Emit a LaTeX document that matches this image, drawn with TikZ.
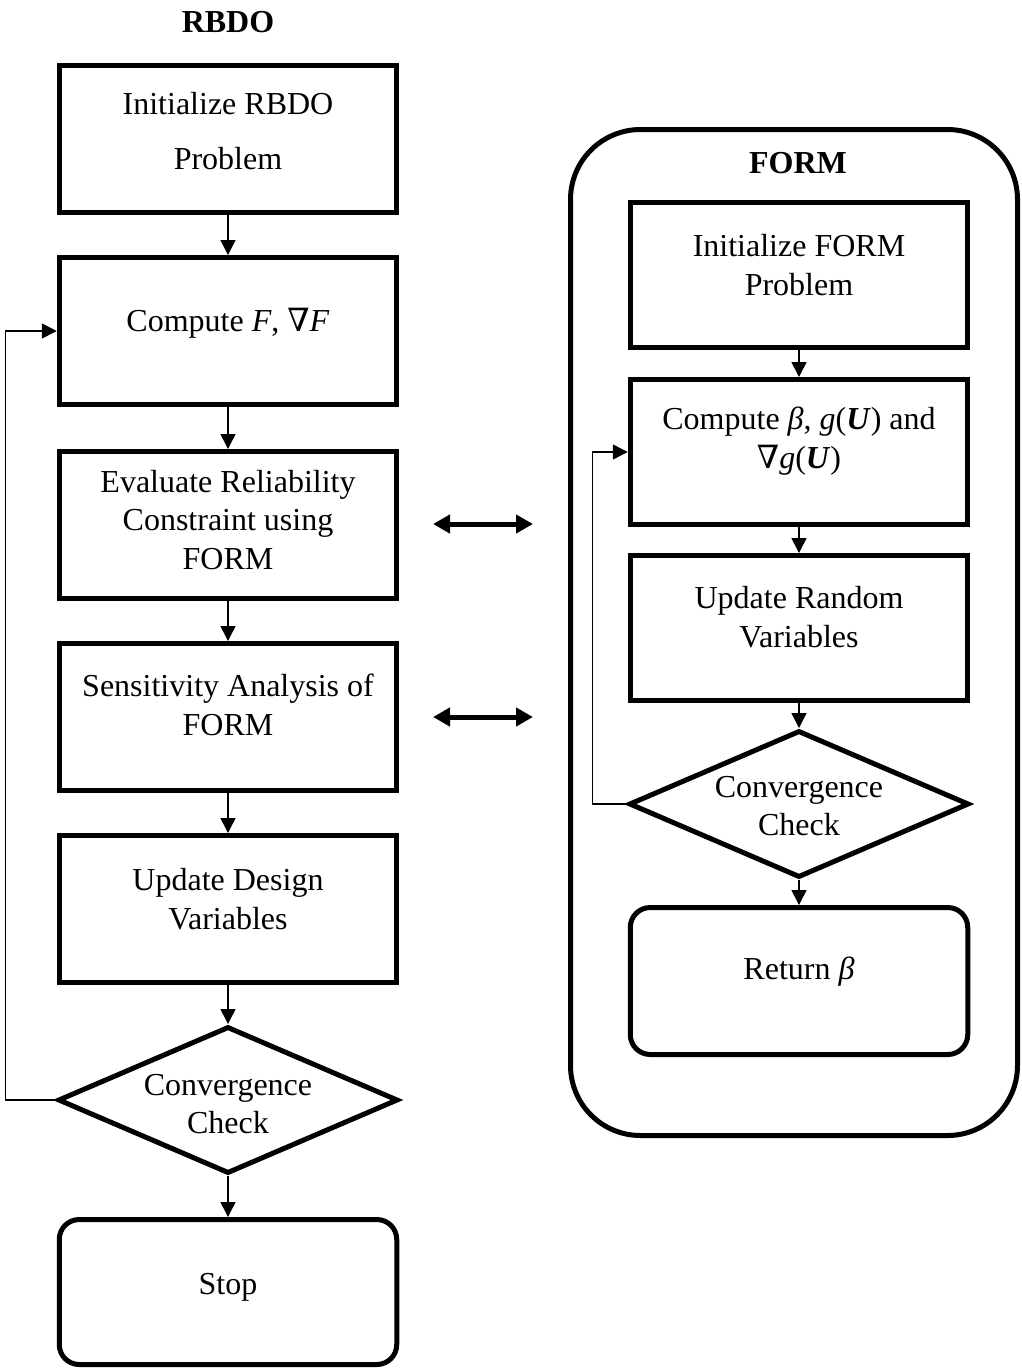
\documentclass[tikz,border=0pt]{standalone}
\usepackage{fontspec}
\setmainfont{Liberation Serif}
\newfontfamily\nablafont{DejaVu Serif}
\newcommand{\nbl}{{\nablafont\symbol{"2207}}}
\usetikzlibrary{shapes.geometric,arrows.meta}
\begin{document}
\begin{tikzpicture}[x=1pt,y=-1pt,
  stepbox/.style={draw,line width=5pt,minimum width=337.5pt,minimum height=147pt,inner sep=0pt},
  roundbox/.style={stepbox,rounded corners=20pt},
  decision/.style={draw,diamond,line width=5pt,minimum width=340pt,minimum height=147pt,inner sep=0pt},
  txt/.style={align=center,font=\fontsize{32}{38.5}\selectfont,inner sep=0pt},
  title/.style={font=\fontsize{32}{38}\selectfont\bfseries,inner sep=0pt},
  conn/.style={line width=1.5pt,-{Triangle[length=15pt,width=15pt]}},
  dbl/.style={line width=5pt,{Triangle[length=17pt,width=18pt]}-{Triangle[length=17pt,width=18pt]}}
]
\useasboundingbox (0,0) rectangle (1021,1369);
% outer FORM container
\node[draw,line width=5pt,rounded corners=70pt,minimum width=447pt,minimum height=1006pt,inner sep=0pt] (formbox) at (794,632.5) {};
% titles
\node[title] (trbdo) at (228,22) {RBDO};
\node[title] (tform) at (798,163) {FORM};
% left column
\node[stepbox] (b1) at (228,139) {};
\node[stepbox] (b2) at (228,331) {};
\node[stepbox] (b3) at (228,525) {};
\node[stepbox] (b4) at (228,717) {};
\node[stepbox] (b5) at (228,909) {};
\node[decision] (d1) at (228,1100) {};
\node[roundbox,minimum height=145pt] (stop) at (228,1292) {};
\node[txt,font=\fontsize{32}{55}\selectfont] (t1) at (228,131) {Initialize RBDO\\Problem};
\node[txt] (t2) at (228,323) {Compute \textit{F}, \nbl\textit{F}};
\node[txt] (t3) at (228,520) {Evaluate Reliability\\Constraint using\\FORM};
\node[txt] (t4) at (228,705) {Sensitivity Analysis of\\FORM};
\node[txt] (t5) at (228,899) {Update Design\\Variables};
\node[txt] (td1) at (228,1104) {Convergence\\Check};
\node[txt] (tstop) at (228,1287) {Stop};
% right column
\node[stepbox,minimum height=145pt] (r1) at (799,275) {};
\node[stepbox,minimum height=145pt] (r2) at (799,452) {};
\node[stepbox,minimum height=145pt] (r3) at (799,628) {};
\node[decision,minimum height=147pt] (rd) at (799,804) {};
\node[roundbox,minimum height=147pt] (r4) at (799,981) {};
\node[txt] (tr1) at (799,265) {Initialize FORM\\Problem};
\node[txt] (tr2) at (799,441) {Compute \textit{β}, \textit{g}(\textbf{\textit{U}}) and\\\nbl\textit{g}(\textbf{\textit{U}})};
\node[txt] (tr3) at (799,617) {Update Random\\Variables};
\node[txt] (trd) at (799,806) {Convergence\\Check};
\node[txt] (tr4) at (799,972) {Return \textit{β}};
% connectors left
\draw[conn] (b1.south) -- (b2.north);
\draw[conn] (b2.south) -- (b3.north);
\draw[conn] (b3.south) -- (b4.north);
\draw[conn] (b4.south) -- (b5.north);
\draw[conn] (b5.south) -- (d1.north);
\draw[conn] (d1.south) -- (stop.north);
\draw[conn] (d1.west) -- ++(-50,0) |- (b2.west);
% connectors right
\draw[conn] (r1.south) -- (r2.north);
\draw[conn] (r2.south) -- (r3.north);
\draw[conn] (r3.south) -- (rd.north);
\draw[conn] (rd.south) -- (r4.north);
\draw[conn] (rd.west) -- ++(-34,0) |- (r2.west);
% double arrows
\coordinate (a1l) at (433,524);
\coordinate (a1r) at (533,524);
\coordinate (a2l) at (433,717);
\coordinate (a2r) at (533,717);
\draw[dbl] (a1l) -- (a1r);
\draw[dbl] (a2l) -- (a2r);
\end{tikzpicture}
\end{document}
